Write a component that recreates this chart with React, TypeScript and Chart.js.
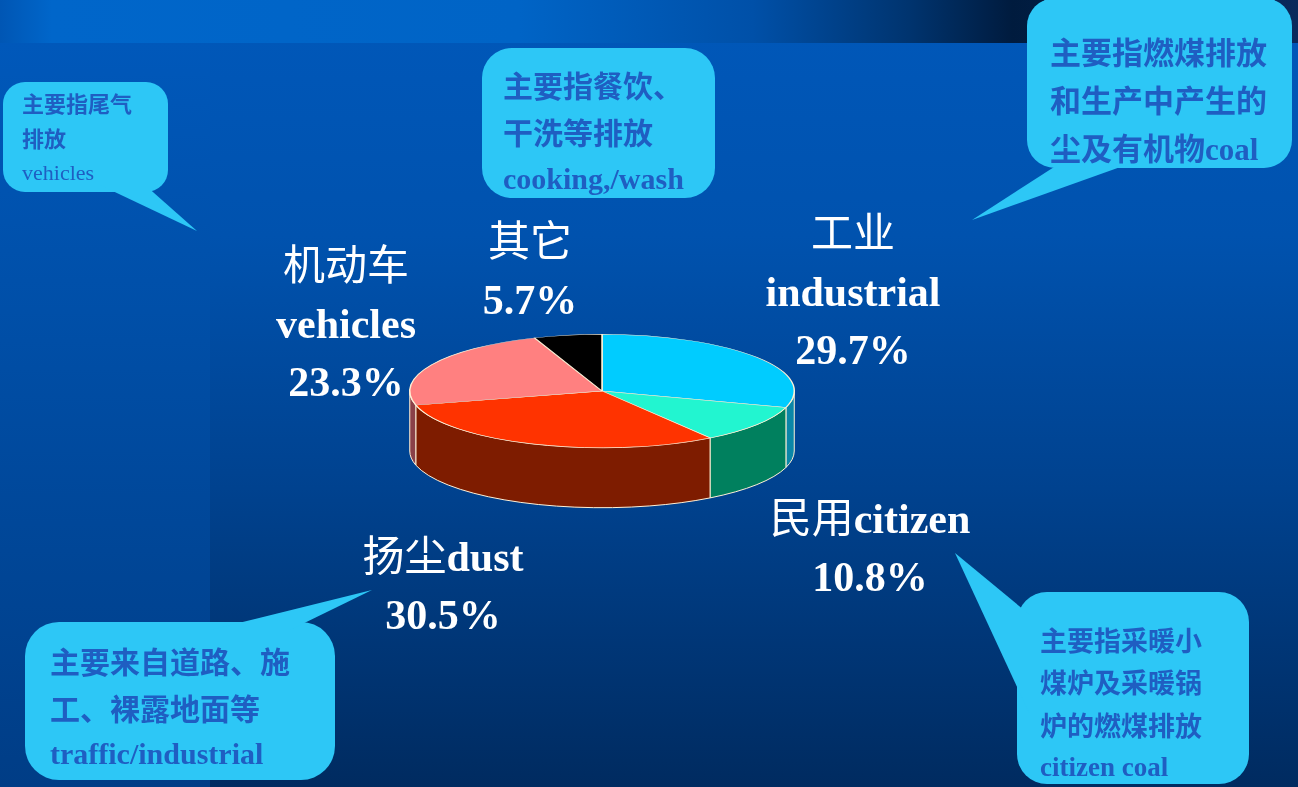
import React, { useEffect, useRef } from "react";
import { Chart, registerables } from "chart.js";

Chart.register(...registerables);

// ---------- data ----------
const categories = ["工业 industrial", "民用 citizen", "扬尘 dust", "机动车 vehicles", "其它"];
const shares = [29.7, 10.8, 30.5, 23.3, 5.7];
const topColors = ["#00CCFF", "#22F5D0", "#FF3300", "#FF8080", "#000000"];
const sideColors = ["#0A86A8", "#00805E", "#7E1C00", "#8A4048", "#111111"];
const labelNames = [["工业", "industrial"], ["民用citizen"], ["扬尘dust"], ["机动车", "vehicles"], ["其它"]];
const noteLines = [
  ["主要指燃煤排放", "和生产中产生的", "尘及有机物coal"],
  ["主要指采暖小", "煤炉及采暖锅", "炉的燃煤排放", "citizen coal"],
  ["主要来自道路、施", "工、裸露地面等", "traffic/industrial"],
  ["主要指尾气", "排放", "vehicles"],
  ["主要指餐饮、", "干洗等排放", "cooking,/wash"],
];

// ---------- layout ----------
const W = 1298;
const H = 787;
const TILT = 0.295;
const DEPTH = 60;
const EDGE = "#FFF1D6";
const SERIF = "'Liberation Serif', 'Times New Roman', serif";
const CJK = "'Noto Sans CJK SC', sans-serif";

const labelPos = [
  { cx: 853, y: 230 },
  { cx: 870, y: 515 },
  { cx: 443, y: 553 },
  { cx: 346, y: 262 },
  { cx: 530, y: 238 },
];

const notePos = [
  { x: 1027, y: -2, w: 265, h: 170, r: 28, tx: 1050, ty: 50, fs: 31, lh: 45, tail: "1065,160 1140,160 972,220" },
  { x: 1017, y: 592, w: 232, h: 192, r: 30, tx: 1040, ty: 640, fs: 27, lh: 40.5, tail: "955,553 1030,615 1030,715" },
  { x: 25, y: 622, w: 310, h: 158, r: 34, tx: 50, ty: 660, fs: 30, lh: 44, tail: "210,630 290,630 372,590" },
  { x: 3, y: 82, w: 165, h: 110, r: 22, tx: 22, ty: 102, fs: 22, lh: 33, tail: "100,185 145,185 197,231" },
  { x: 482, y: 48, w: 233, h: 150, r: 30, tx: 503, ty: 84, fs: 30, lh: 45, tail: "" },
];

function mixed(text: string, cjkWeight: number) {
  const parts = text.split(/([\u3000-\u303f\u4e00-\u9fff\uff00-\uffef]+)/);
  return parts.map((p, i) =>
    /[\u3000-\u303f\u4e00-\u9fff\uff00-\uffef]/.test(p) ? (
      <span key={i} style={{ fontFamily: CJK, fontWeight: cjkWeight }}>{p}</span>
    ) : (
      <span key={i}>{p}</span>
    )
  );
}

const pie3d = {
  id: "pie3d",
  beforeDatasetsDraw(chart: any) {
    const meta = chart.getDatasetMeta(0);
    const ctx = chart.ctx;
    const first: any = meta.data[0];
    ctx.save();
    if (!first) return;
    const cx = first.x;
    const cy = first.y;
    const r = first.outerRadius;
    const ry = r * TILT;
    meta.data.forEach((arc: any, i: number) => {
      const s = arc.startAngle;
      const e = arc.endAngle;
      for (const shift of [-2 * Math.PI, 0, 2 * Math.PI]) {
        const a = Math.max(s + shift, 0);
        const b = Math.min(e + shift, Math.PI);
        if (b <= a) continue;
        ctx.save();
        ctx.beginPath();
        ctx.ellipse(cx, cy, r, ry, 0, a, b, false);
        ctx.ellipse(cx, cy + DEPTH, r, ry, 0, b, a, true);
        ctx.closePath();
        ctx.fillStyle = sideColors[i];
        ctx.fill();
        ctx.strokeStyle = EDGE;
        ctx.lineWidth = 1;
        ctx.stroke();
        ctx.restore();
      }
    });
    ctx.translate(cx, cy);
    ctx.scale(1, TILT);
    ctx.translate(-cx, -cy);
  },
  afterDatasetsDraw(chart: any) {
    chart.ctx.restore();
  },
};

export default function App() {
  const ref = useRef<HTMLCanvasElement | null>(null);

  useEffect(() => {
    if (!ref.current) return;
    const chart = new Chart(ref.current, {
      type: "pie",
      data: {
        labels: categories,
        datasets: [
          {
            data: shares,
            backgroundColor: topColors,
            borderColor: EDGE,
            borderWidth: 1.5,
            hoverOffset: 0,
            clip: false,
          } as any,
        ],
      },
      options: {
        responsive: false,
        animation: false,
        events: [],
        layout: { padding: { left: 409, right: 503, top: 198, bottom: 203 } },
        plugins: { legend: { display: false }, tooltip: { enabled: false } },
      },
      plugins: [pie3d as any],
    });
    return () => chart.destroy();
  }, []);

  return (
    <div
      style={{
        position: "absolute",
        left: 0,
        top: 0,
        width: W,
        height: H,
        overflow: "hidden",
        background: "linear-gradient(180deg, #0058BA 0%, #0052AE 30%, #00428F 62%, #002B60 100%)",
      }}
    >
      {/* top band */}
      <div
        style={{
          position: "absolute",
          left: 0,
          top: 0,
          width: W,
          height: 43,
          background:
            "linear-gradient(90deg, #0056B4 0%, #0066CA 4%, #0064C6 40%, #0050A8 58%, #00346F 70%, #001B3E 78%, #0A2A5C 100%)",
        }}
      />
      {/* left column */}
      <div
        style={{
          position: "absolute",
          left: 0,
          top: 43,
          width: 210,
          height: H - 43,
          background: "linear-gradient(180deg, #0058BA 0%, #004EA6 40%, #003D86 100%)",
        }}
      />
      <canvas ref={ref} width={W} height={H} style={{ position: "absolute", left: 0, top: 0 }} />

      {/* callout bubbles */}
      <svg width={W} height={H} style={{ position: "absolute", left: 0, top: 0 }}>
        {notePos.map((n, i) => (
          <g key={i} fill="#2DC7F6">
            <rect x={n.x} y={n.y} width={n.w} height={n.h} rx={n.r} ry={n.r} />
            {n.tail && <polygon points={n.tail} />}
          </g>
        ))}
      </svg>

      {notePos.map((n, i) => (
        <div
          key={i}
          style={{
            position: "absolute",
            left: n.tx,
            top: n.ty - n.lh / 2,
            fontFamily: SERIF,
            fontWeight: i === 3 ? "normal" : "bold",
            fontSize: n.fs,
            lineHeight: `${n.lh}px`,
            color: "#1F5EC2",
            whiteSpace: "pre",
          }}
        >
          {noteLines[i].map((line, j) => (
            <div key={j}>{mixed(line, 700)}</div>
          ))}
        </div>
      ))}

      {/* slice labels */}
      {labelPos.map((p, i) => (
        <div
          key={i}
          style={{
            position: "absolute",
            left: p.cx - 200,
            width: 400,
            top: p.y - 29,
            textAlign: "center",
            fontFamily: SERIF,
            fontWeight: "bold",
            fontSize: 42,
            lineHeight: "58px",
            color: "#FFFFFF",
            whiteSpace: "pre",
          }}
        >
          {labelNames[i].map((line, j) => (
            <div key={j}>{mixed(line, 400)}</div>
          ))}
          <div>{`${shares[i]}%`}</div>
        </div>
      ))}
    </div>
  );
}
